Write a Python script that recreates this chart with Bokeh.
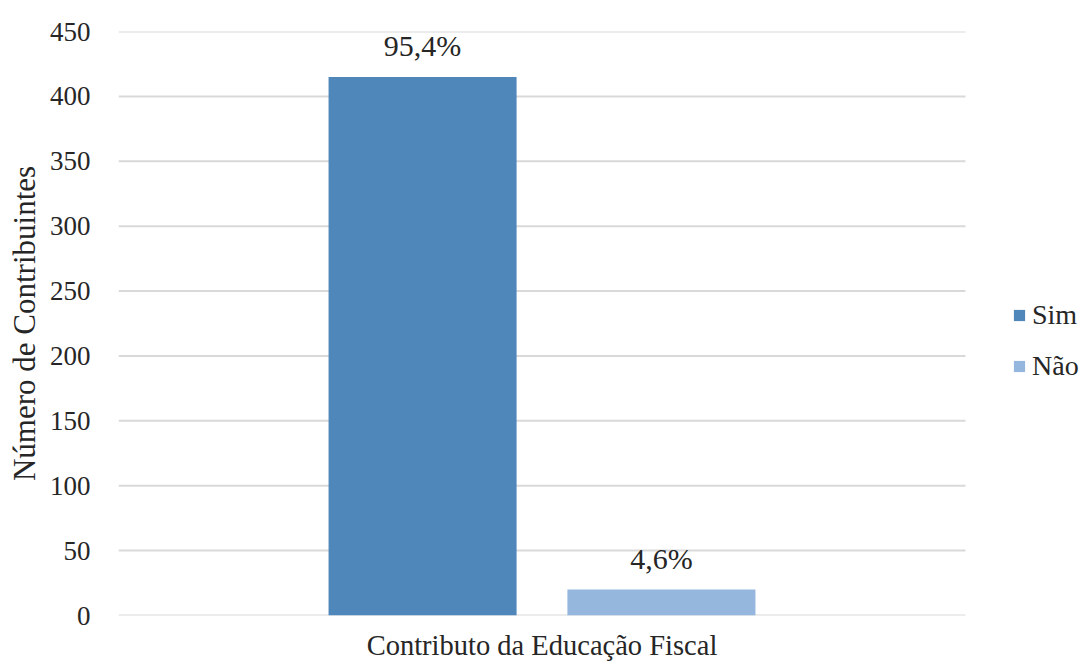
from bokeh.plotting import figure
from bokeh.models import ColumnDataSource, Legend, LegendItem, Range1d, FixedTicker
from bokeh.transform import dodge
from bokeh.embed import file_html
from bokeh.resources import INLINE

category = "Contributo da Educação Fiscal"
series = ["Sim", "Não"]
values = [415, 20]
labels = ["95,4%", "4,6%"]
colors = ["#4F87BA", "#95B7DE"]
y_ticks = [0, 50, 100, 150, 200, 250, 300, 350, 400, 450]

# layout (pixels / relative positions)
cat_pos = 0.5          # category centre on a 0..1 category axis
offsets = [-0.141, 0.141]
bar_width = 0.222
FRAME_W = 967          # frame runs to the right edge so the legend can live inside it
CAT_W = 847            # width of the actual category area
FONT = "Times New Roman"
TXT = "#262626"

p = figure(frame_width=FRAME_W, frame_height=584,
           x_range=Range1d(0, FRAME_W / CAT_W), y_range=Range1d(0, 450),
           output_backend="svg", toolbar_location=None,
           min_border_left=118, min_border_right=0, min_border_top=31, min_border_bottom=47)
p.outline_line_color = None
p.background_fill_color = "white"
p.border_fill_color = "white"

# gridlines limited to category area
p.segment(x0=0, x1=1, y0=y_ticks, y1=y_ticks, line_color="#d9d9d9", line_width=2)

items = []
for s, v, lab, c, off in zip(series, values, labels, colors, offsets):
    src = ColumnDataSource(dict(x=[cat_pos], top=[v], lab=[lab]))
    r = p.vbar(x=dodge("x", off), top="top", width=bar_width, source=src,
               fill_color=c, line_color=None)
    p.text(x=dodge("x", off), y="top", text="lab", source=src,
           text_align="center", text_baseline="middle", y_offset=-31,
           text_font_size="30px", text_color=TXT, text_font={"value": FONT})
    items.append(LegendItem(label=s, renderers=[r]))

legend = Legend(items=items, location=(894, 233), border_line_color=None,
                label_text_font=FONT, label_text_font_size="28px", label_text_color=TXT,
                glyph_width=14, glyph_height=14, spacing=19, padding=0, margin=0,
                label_height=28, label_standoff=6, background_fill_alpha=0)
p.add_layout(legend, "center")

p.yaxis.ticker = FixedTicker(ticks=y_ticks)
p.yaxis.axis_line_color = None
p.yaxis.major_tick_line_color = None
p.yaxis.minor_tick_line_color = None
p.yaxis.major_label_text_font = FONT
p.yaxis.major_label_text_font_size = "27px"
p.yaxis.major_label_text_color = TXT
p.yaxis.major_label_standoff = 22
p.yaxis.axis_label = "Número de Contribuintes"
p.yaxis.axis_label_text_font = FONT
p.yaxis.axis_label_text_font_size = "31px"
p.yaxis.axis_label_text_font_style = "normal"
p.yaxis.axis_label_text_color = TXT
p.yaxis.axis_label_standoff = 5

p.xaxis.ticker = FixedTicker(ticks=[cat_pos])
p.xaxis.major_label_overrides = {cat_pos: category}
p.xaxis.axis_line_color = None
p.xaxis.major_tick_line_color = None
p.xaxis.minor_tick_line_color = None
p.xaxis.major_label_text_font = FONT
p.xaxis.major_label_text_font_size = "28.5px"
p.xaxis.major_label_text_color = TXT
p.xaxis.major_label_standoff = 8

p.xgrid.grid_line_color = None
p.ygrid.grid_line_color = None

open("out.html", "w").write(file_html(p, INLINE))
